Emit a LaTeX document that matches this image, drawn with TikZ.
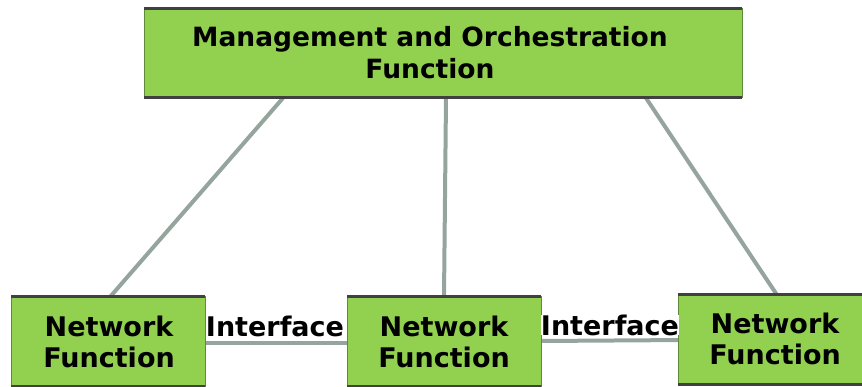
\documentclass[tikz,border=0pt]{standalone}
\usepackage{fontspec}
\setmainfont{DejaVu Sans}
\definecolor{boxgreen}{HTML}{92D050}
\definecolor{boxedge}{HTML}{5E8A3A}
\definecolor{edgedark}{HTML}{404040}
\definecolor{linkgray}{HTML}{95A59E}
\tikzset{
  fbox/.style={fill=boxgreen, draw=boxedge, line width=1pt},
  bandline/.style={edgedark, line width=3pt},
  link/.style={linkgray, line width=4pt},
  lbl/.style={font=\bfseries\fontsize{27}{31}\selectfont, align=center, text=black, inner sep=0pt},
  tlbl/.style={font=\bfseries\fontsize{26.5}{32}\selectfont, align=center, text=black, inner sep=0pt},
  ilbl/.style={font=\bfseries\fontsize{27}{30}\selectfont, text=black, inner sep=0pt}
}
\begin{document}
\begin{tikzpicture}[x=1pt,y=-1pt]
\useasboundingbox (0,0) rectangle (862,387);
\coordinate (mtl) at (144,9); \coordinate (mbr) at (742,98);
\coordinate (atl) at (11,297); \coordinate (abr) at (205,386);
\coordinate (btl) at (347,297); \coordinate (bbr) at (541,386);
\coordinate (ctl) at (678,295); \coordinate (cbr) at (862,384);
% links (behind boxes)
\coordinate (m1) at (283,98); \coordinate (a1) at (110,297);
\coordinate (m2) at (446,98); \coordinate (b1) at (444,297);
\coordinate (m3) at (646,98); \coordinate (c1) at (777,295);
\draw[link] (m1) -- (a1);
\draw[link] (m2) -- (b1);
\draw[link] (m3) -- (c1);
\coordinate (a2) at (205,343); \coordinate (b2) at (347,343);
\coordinate (b3) at (541,341); \coordinate (c2) at (687,340);
\draw[link] (a2) -- (b2);
\draw[link] (b3) -- (c2);
% boxes
\fill[fbox] (mtl) rectangle (mbr);
\fill[fbox] (atl) rectangle (abr);
\fill[fbox] (btl) rectangle (bbr);
\fill[fbox] (ctl) rectangle (cbr);
\draw[fbox, fill=none] (mtl) rectangle (mbr);
\draw[fbox, fill=none] (atl) rectangle (abr);
\draw[fbox, fill=none] (btl) rectangle (bbr);
\draw[fbox, fill=none] (ctl) rectangle (cbr);
\draw[bandline] (144,9) -- (742,9);
\draw[bandline] (144,98) -- (742,98);
\draw[bandline] (11,297) -- (205,297);
\draw[bandline] (11,386) -- (205,386);
\draw[bandline] (347,297) -- (541,297);
\draw[bandline] (347,386) -- (541,386);
\draw[bandline] (678,295) -- (862,295);
\draw[bandline] (678,384) -- (862,384);
% labels
\node[tlbl] (mt) at (430,53) {Management and Orchestration\\Function};
\node[lbl] (at) at (109,342) {Network\\Function};
\node[lbl] (bt) at (444,342) {Network\\Function};
\node[lbl] (ct) at (775,339) {Network\\Function};
\node[ilbl, fill=white] (i1) at (275,326) {Interface};
\node[ilbl, fill=white] (i2) at (610,325) {Interface};
\end{tikzpicture}
\end{document}
